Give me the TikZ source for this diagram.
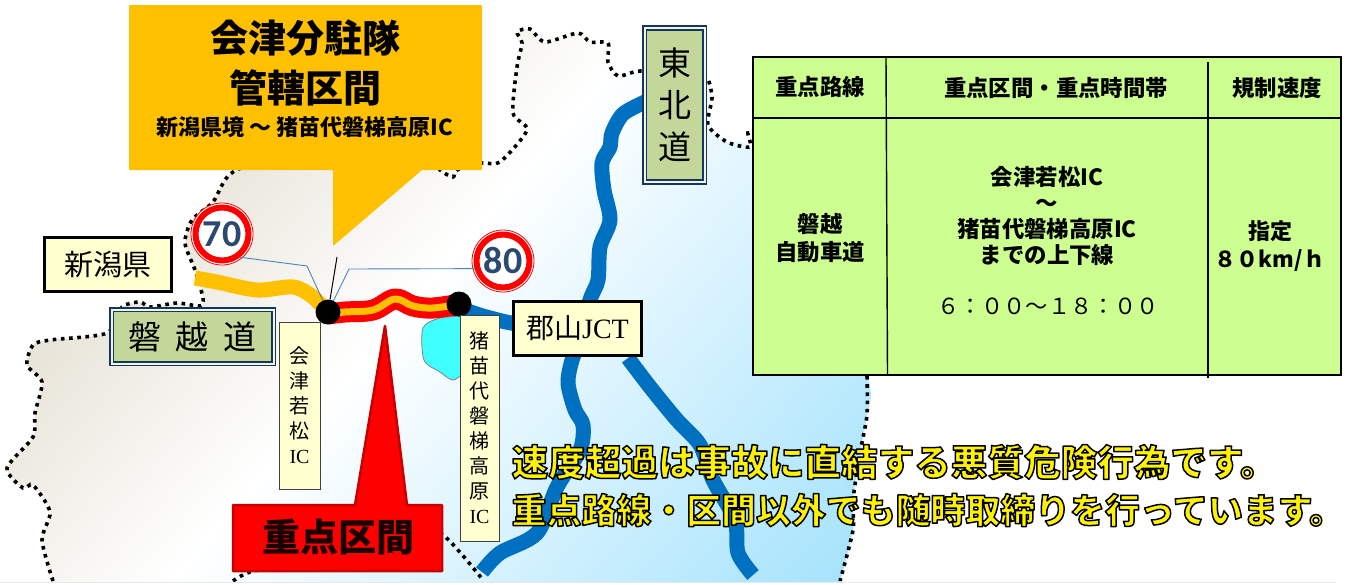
\documentclass[tikz,border=0pt]{standalone}
\usepackage{fontspec}
\setmainfont{Noto Sans CJK JP}
\newfontfamily\cjk{Noto Sans CJK JP}
\newfontfamily\cjkblack{Noto Sans CJK JP Black}
\newfontfamily\serifl{Liberation Serif}
\newfontfamily\numf{Carlito}
\definecolor{lightyel}{HTML}{FFFFD0}
\definecolor{roadblue}{HTML}{0070C0}
\definecolor{orangeY}{HTML}{FFC000}
\definecolor{sage}{HTML}{C4D79B}
\definecolor{navyb}{HTML}{17365D}
\definecolor{tgreen}{HTML}{CCFF90}
\definecolor{leader}{HTML}{4F81BD}
\definecolor{beigeL}{HTML}{E6E2D6}
\definecolor{skyR}{HTML}{A6E3FC}
\definecolor{signblue}{HTML}{2A4A72}
\definecolor{lakec}{HTML}{40FFFF}
\newcommand{\fsz}[1]{\fontsize{#1}{#1}\selectfont}
\newcommand{\fszl}[2]{\fontsize{#1}{#2}\selectfont}
\newcommand{\outl}[1]{\special{pdf:code 2 Tr 1.5 w 0 0 0 RG 1 j}#1\special{pdf:code 0 Tr 0 w}}
\tikzset{
  labelbox/.style={draw=black,line width=3pt,fill=lightyel,inner sep=0pt,align=center},
  vbox/.style={draw=black!75,line width=1pt,fill=lightyel,inner sep=0pt,align=center},
  roadbox/.style={draw=navyb,line width=1.6pt,double=white!75!sage,double distance=2pt,fill=sage,inner sep=0pt,align=center},
  txt/.style={inner sep=0pt,align=center},
  bdot/.style={circle,fill=black,minimum size=25pt,inner sep=0pt},
  road/.style={line width=15pt,draw=roadblue,line join=round},
  bdr/.style={line width=3.6pt,dash pattern=on 3.6pt off 4.6pt,draw=black},
  leadline/.style={draw=leader,line width=.9pt},
  signn/.style={circle,draw=red,line width=6pt,fill=white,minimum size=53pt,inner sep=0pt,text=signblue},
  tline/.style={draw=black,line width=1.4pt},
}
\begin{document}
\begin{tikzpicture}[x=1pt,y=-1pt]
\useasboundingbox (0,0) rectangle (1352,584);
\fill[white] (0,0) rectangle (1352,584);
% map fill
\begin{scope}
\clip plot[smooth,tension=.45] coordinates {(53,582)(42,540)(50,512)(33,485)(23,488)(7,468)(33,437)(35,413)(42,382)(27,365)(33,345)(50,340)(107,333)(122,307)(140,302)(150,307)(177,303)(200,306)(203,298)(195,270)(185,243)(192,220)(213,202)(233,172)(300,150)(420,150)(440,170)(453,177)(457,170)(482,163)(500,162)(527,130)(513,113)(517,67)(522,43)(517,32)(530,29)(545,42)(578,33)(590,42)(608,43)(608,62)(618,76)(640,71)(690,72)(707,78)(712,98)(708,125)(727,142)(750,147)(800,220)(867,376)(867,415)(860,453)(853,500)(853,530)(840,582)} -- cycle;
\begin{scope}[transform canvas={rotate=-40.8}]
\shade[left color=beigeL,right color=white] (240,-1500) rectangle (508,1500);
\shade[left color=white,right color=skyR] (507.5,-1500) rectangle (1016,1500);
\end{scope}
\end{scope}
% borders
\draw[bdr] plot[smooth,tension=.45] coordinates {(53,581)(42,540)(50,512)(33,485)(23,488)(7,468)(33,437)(35,413)(42,382)(27,365)(33,345)(50,340)(107,333)(122,307)(140,302)(150,307)(177,303)(200,306)(203,298)(195,270)(185,243)(192,220)(213,202)(233,172)(300,150)(420,150)(440,170)(453,177)(457,170)(482,163)(500,162)(527,130)(513,113)(517,67)(522,43)(517,32)(530,29)(545,42)(578,33)(590,42)(608,43)(608,62)(618,76)(640,71)(690,72)(707,78)(712,98)(708,125)(727,142)(750,147)(748,133)(756,136)};
\draw[bdr] plot[smooth,tension=.45] coordinates {(867,376)(867,415)(860,453)(853,500)(853,530)(840,581)};
\draw[bdr] plot[smooth,tension=.45] coordinates {(233,581)(250,572)(300,560)(400,520)(443,535)(483,580)};
\draw[line width=1pt,draw=blue!20!gray!15] (0,582.5) -- (1336,582.5);
% roads
\draw[road] plot[smooth,tension=.5] coordinates {(645,102)(623,114)(612,133)(610,147)(602,163)(604,190)(610,220)(600,247)(598,280)(590,300)(578,345)(572,360)(568,383)(575,410)(583,425)(580,450)(557,487)(537,533)(500,553)(482,572)};
\draw[road] plot[smooth,tension=.5] coordinates {(628,358)(650,387)(677,420)(700,445)(713,480)(735,520)(738,553)(753,575)};
\draw[road] plot[smooth,tension=.5] coordinates {(465,310)(490,318)(530,325)(640,325)};
% lake
\draw[draw=gray,line width=.8pt,fill=lakec] plot[smooth,tension=.5] coordinates {(465,316)(440,318)(423,328)(424,360)(440,372)(453,380)(465,372)} -- cycle;
% sections
\draw[line width=15pt,draw=orangeY,line join=round] plot[smooth,tension=.5] coordinates {(195,278)(217,282)(257,290)(293,287)(313,297)(328,313)};
\draw[line width=21pt,draw=red,line join=round] plot[smooth,tension=.6] coordinates {(328,314)(345,312)(373,310)(395,299)(413,306)(433,308)(460,304)};
\draw[line width=7pt,draw=orangeY,line join=round] plot[smooth,tension=.6] coordinates {(328,314)(345,312)(373,310)(395,299)(413,306)(433,308)(460,304)};
\node[bdot] (jA) at (328,312) {};
\node[bdot] (jB) at (459,304) {};
% signs
\draw[red,line width=.8pt,fill=white] (222,234) circle (31);
\draw[red,line width=.8pt,fill=white] (503,261) circle (31);
\node[signn,font=\numf\bfseries\fsz{38}] (s70) at (222,234) {70};
\node[signn,font=\numf\bfseries\fsz{38}] (s80) at (503,261) {80};
\coordinate (k70) at (307,266);
\coordinate (k80) at (349,269);
\coordinate (kbl) at (337,257);
\draw[leadline] (s70.-52) -- (k70) -- (jA);
\draw[leadline] (s80.-165) -- (k80) -- (jA);
\draw[black,line width=1pt] (kbl) -- (jA);
% labels
\node[labelbox,minimum width=127pt,minimum height=54pt,font=\cjk\fsz{29}] (nii) at (108,264.5) {新潟県};
\node[roadbox,minimum width=162pt,minimum height=54pt,font=\cjk\fsz{33}] (ban) at (192.5,336.5) {{\spaceskip=15pt 磐 越 道}};
\node[roadbox,minimum width=60pt,minimum height=154pt,font=\cjk\fszl{33}{42}] (toh) at (674.5,105) {東\\北\\道};
\node[labelbox,minimum width=128pt,minimum height=54pt,font=\cjk\fsz{28}] (jct) at (577.5,328.5) {郡山{\serifl JCT}};
\node[vbox,minimum width=41pt,minimum height=167pt,font=\cjk\fszl{20}{25}] (aiz) at (299.5,405.5) {会\\津\\若\\松\\{\serifl IC}};
\node[vbox,minimum width=39pt,minimum height=226pt,font=\cjk\fszl{20}{25}] (ina) at (479.5,428) {猪\\苗\\代\\磐\\梯\\高\\原\\{\serifl IC}};
% orange callout
\fill[orangeY,rounded corners=.8pt] (129,5) -- (482,5) -- (482,170) -- (422,170) -- (333,246) -- (333,170) -- (129,170) -- cycle;
\node[txt,font=\cjk\bfseries\fsz{38}] (cal1) at (305,38) {会津分駐隊};
\node[txt,font=\cjk\bfseries\fsz{38}] (cal2) at (305,88) {管轄区間};
\node[txt,font=\cjk\bfseries\fsz{22}] (cal3) at (305,127) {新潟県境 ～ 猪苗代磐梯高原IC};
% red callout
\draw[fill=red,draw=red!78!black,line width=2.5pt,line join=round] (233,505) -- (355,505) -- (385,326) -- (407,505) -- (442,505) -- (442,571) -- (233,571) -- cycle;
\node[txt,font=\cjk\bfseries\fsz{38},text=black!90!red] (red) at (338,537) {重点区間};
% table
\fill[tgreen] (753,57) rectangle (1341,375);
\draw[tline] (753,118) -- (1341,118);
\draw[tline] (886,57) -- (887.5,375);
\draw[tline] (1208,62) -- (1208,378);
\draw[draw=black,line width=2pt] (753,57) rectangle (1341,375);
\node[txt,font=\cjk\bfseries\fsz{22.4}] (h1) at (820,87) {重点路線};
\node[txt,font=\cjk\bfseries\fsz{22.4}] (h2) at (1056,88) {重点区間・重点時間帯};
\node[txt,font=\cjk\bfseries\fsz{22.4}] (h3) at (1277,88) {規制速度};
\node[txt,font=\cjk\bfseries\fszl{22.4}{28}] (c1) at (820,238) {磐越\\自動車道};
\node[txt,font=\cjk\bfseries\fszl{22.4}{26}] (c2) at (1047,216) {会津若松IC\\～\\猪苗代磐梯高原IC\\までの上下線};
\node[txt,font=\cjk\fsz{22.2}] (c3) at (1048,306) {６：００～１８：００};
\node[txt,font=\cjk\bfseries\fszl{22}{28}] (c4) at (1270,246) {指定\\８０km/ｈ};
% slogan
\node[anchor=west,inner sep=0pt,font=\cjkblack\fsz{36.6}] (sl1) at (511.5,462) {\color{yellow}\outl{速度超過は事故に直結する悪質危険行為です。}};
\node[anchor=west,inner sep=0pt,font=\cjkblack\fsz{34.9}] (sl2) at (511.5,510) {\color{yellow}\outl{重点路線・区間以外でも随時取締りを行っています。}};
\end{tikzpicture}
\end{document}
